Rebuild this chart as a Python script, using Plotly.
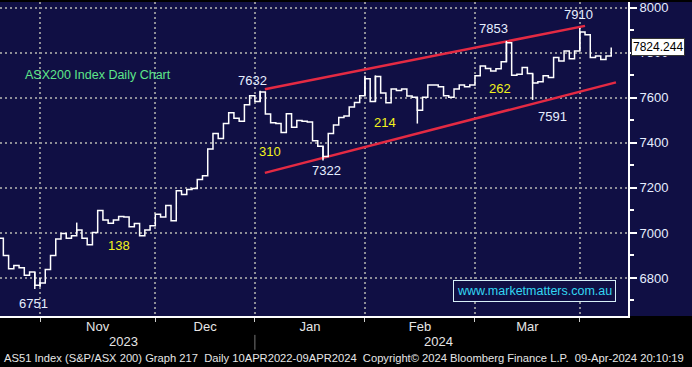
import plotly.graph_objects as go

# ---- data (trading-day index on x) ----
closes = [6976, 6900, 6841, 6855, 6845, 6812, 6826, 6768, 6778, 6838,
          6900, 6973, 6998, 6976, 6988, 7013, 6976, 6948, 7002, 7100,
          7057, 7043, 7057, 7073, 7071, 7027, 7042, 6988, 7013, 7032,
          7083, 7071, 7122, 7054, 7188, 7171, 7193, 7197, 7237, 7254,
          7373, 7442, 7420, 7486, 7534, 7510, 7496, 7570, 7610, 7584,
          7626, 7528, 7490, 7486, 7446, 7530, 7470, 7500, 7496, 7493,
          7410, 7385, 7340, 7442, 7479, 7513, 7520, 7560, 7580, 7610,
          7685, 7584, 7695, 7622, 7578, 7640, 7633, 7640, 7608, 7603,
          7545, 7603, 7657, 7657, 7650, 7610, 7603, 7640, 7657, 7650,
          7657, 7698, 7742, 7731, 7720, 7730, 7760, 7845, 7701, 7705,
          7735, 7708, 7666, 7672, 7698, 7691, 7779, 7764, 7808, 7774,
          7808, 7893, 7881, 7779, 7786, 7771, 7786, 7824.244]

wick_idx = [7, 8, 15, 50, 62, 70, 72, 80, 97, 102, 111]
wick_hi = [6826, 6800, 7046, 7632, 7385, 7698, 7700, 7603, 7853, 7708, 7910]
wick_lo = [6751, 6760, 6998, 7584, 7322, 7610, 7584, 7486, 7760, 7591, 7808]

month_labels = ["Nov", "Dec", "Jan", "Feb", "Mar"]
month_mid_idx = [19, 39.5, 59.5, 80.5, 101]
month_start_idx = [8, 30, 49, 70, 91, 111]
year_labels = ["2023", "2024"]
year_mid_idx = [24, 84]
year_split_idx = 49
y_ticks = [6800, 7000, 7200, 7400, 7600, 7800, 8000]

upper_x = [50.9, 112.0]
upper_y = [7638, 7920]
lower_x = [50.9, 117.9]
lower_y = [7267, 7669]

label_text = ["6751", "138", "7632", "310", "7322", "214", "7853", "262", "7591", "7910"]
label_x = [6.7, 23.1, 48.6, 51.9, 62.6, 73.8, 94.5, 95.8, 105.7, 110.7]
label_y = [6688, 6944, 7678, 7360, 7276, 7492, 7907, 7642, 7519, 7969]
label_kind = ["px", "gap", "px", "gap", "px", "gap", "px", "gap", "px", "px"]

last_value = closes[-1]

NAVY = "#100F44"
WHITE_TXT = "#E6EEFF"
YELLOW = "#F2F21C"
RED = "#E42A43"
GRID = "#8E8E96"
NARROW = "Liberation Sans Narrow, Arial Narrow, Liberation Sans, Arial"

fig = go.Figure()

# trend channel
fig.add_trace(go.Scatter(x=upper_x, y=upper_y, mode="lines",
                         line=dict(color=RED, width=2.5), hoverinfo="skip"))
fig.add_trace(go.Scatter(x=lower_x, y=lower_y, mode="lines",
                         line=dict(color=RED, width=2.5), hoverinfo="skip"))

# price step line
fig.add_trace(go.Scatter(x=list(range(len(closes))), y=closes, mode="lines",
                         line=dict(color="white", width=1.5, shape="hv"),
                         hoverinfo="skip"))
# high/low wicks
wx, wy = [], []
for i, h, l in zip(wick_idx, wick_hi, wick_lo):
    wx += [i, i, None]
    wy += [l, h, None]
fig.add_trace(go.Scatter(x=wx, y=wy, mode="lines",
                         line=dict(color="white", width=1.5), hoverinfo="skip"))

annotations = []
for t, x, y, k in zip(label_text, label_x, label_y, label_kind):
    annotations.append(dict(x=x, y=y, xref="x", yref="y", text=t, showarrow=False,
                            xanchor="center", yanchor="middle",
                            font=dict(family="Liberation Sans, Arial", size=13,
                                      color=WHITE_TXT if k == "px" else YELLOW)))
annotations.append(dict(x=98 / 628, y=1 - 73 / 316, xref="paper", yref="paper",
                        xanchor="center", yanchor="middle",
                        text="ASX200 Index Daily Chart", showarrow=False,
                        font=dict(family="Liberation Sans, Arial", size=12.5, color="#5EE68A")))
annotations.append(dict(x=534 / 628, y=1 - 291 / 316, xref="paper", yref="paper",
                        xanchor="center", yanchor="middle",
                        text="www.marketmatters.com.au", showarrow=False,
                        bordercolor="#D8F0F8", borderwidth=1, borderpad=3, bgcolor=NAVY,
                        font=dict(family="Liberation Sans, Arial", size=12.5, color="#33D6F2")))
annotations.append(dict(x=1, y=last_value, xref="paper", yref="y", xanchor="left",
                        yanchor="middle", xshift=3, text=f"{last_value:.3f}", showarrow=False,
                        bgcolor="white", bordercolor="#333", borderwidth=1, borderpad=1,
                        font=dict(family="Liberation Sans, Arial", size=12, color="black")))
for t, xm in zip(year_labels, year_mid_idx):
    annotations.append(dict(x=xm, y=1 - 342 / 316, xref="x", yref="paper", text=t,
                            xanchor="center", yanchor="middle", showarrow=False,
                            font=dict(family=NARROW, size=13, color="#E6E6E6")))
annotations.append(dict(x=2 / 628, y=1 - 358 / 316, xref="paper", yref="paper",
                        xanchor="left", yanchor="middle",
                        text="AS51 Index (S&P/ASX 200) Graph 217  Daily 10APR2022-09APR2024  "
                             "Copyright\u00a9 2024 Bloomberg Finance L.P.  09-Apr-2024 20:10:19",
                        showarrow=False,
                        font=dict(family=NARROW, size=11.2, color="#E6E6E6")))

shapes = [
    dict(type="rect", xref="paper", yref="paper", x0=1, x1=1.2, y0=0, y1=1,
         fillcolor=NAVY, line=dict(width=0), layer="below"),
    dict(type="line", xref="x", yref="paper", x0=year_split_idx, x1=year_split_idx,
         y0=1 - 335 / 316, y1=1 - 350 / 316, line=dict(color="#777", width=1)),
]

fig.update_layout(
    width=692, height=367,
    margin=dict(l=0, r=64, t=0, b=51),
    paper_bgcolor="black", plot_bgcolor=NAVY,
    showlegend=False,
    annotations=annotations, shapes=shapes,
    xaxis=dict(range=[0.36, 120.2], tickmode="array", tickvals=month_mid_idx,
               ticktext=month_labels, ticks="", showgrid=False, zeroline=False,
               showline=True, linecolor="white", linewidth=2, ticklabelstandoff=-3,
               tickfont=dict(family=NARROW, size=13, color="#E6E6E6"),
               minor=dict(tickmode="array", tickvals=month_start_idx, showgrid=True,
                          gridcolor=GRID, gridwidth=2, griddash="2px,3px",
                          ticks="outside", ticklen=4, tickcolor="#CCCCCC", tickwidth=1)),
    yaxis=dict(range=[6631, 8026], side="right", tickmode="array", tickvals=y_ticks,
               showgrid=True, gridcolor=GRID, gridwidth=2, griddash="2px,3px",
               zeroline=False, showline=True, linecolor="white", linewidth=2,
               ticks="outside", ticklen=7, tickwidth=2, tickcolor="white",
               ticklabeloverflow="allow",
               tickfont=dict(family="Liberation Sans, Arial", size=13, color=WHITE_TXT),
               minor=dict(dtick=100, ticks="outside", ticklen=4, tickcolor="white",
                          showgrid=False)),
)

fig.write_html(
    "out.html",
    config={"displayModeBar": False},
    post_script="document.body.style.margin='0';document.body.style.overflow='hidden';",
)
